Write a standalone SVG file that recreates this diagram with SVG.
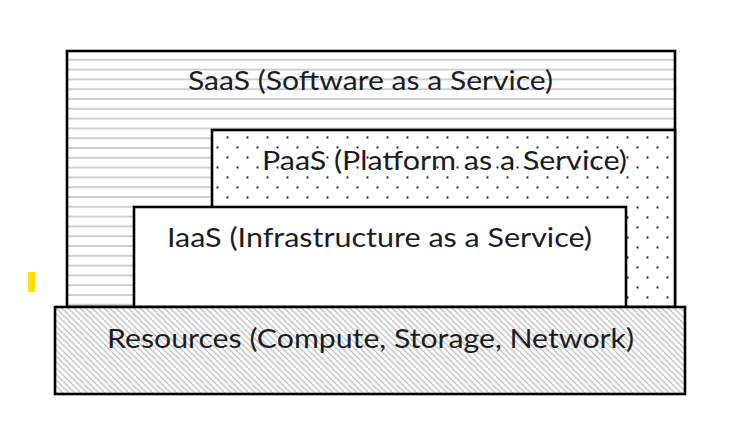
<svg xmlns="http://www.w3.org/2000/svg" width="735" height="425" viewBox="0 0 735 425">
  <style>
    .box { stroke: #000; stroke-width: 2.6; }
    .lbl { font-family: Lato, "Open Sans", "Liberation Sans", sans-serif; font-size: 26.5px; fill: #1c1c24; }
  </style>
  <defs>
    <pattern id="hlines" patternUnits="userSpaceOnUse" x="0" y="0" width="20" height="9.8">
      <rect x="0" y="0.2" width="20" height="1.6" fill="#c4c4c4"/>
    </pattern>
    <pattern id="dots" patternUnits="userSpaceOnUse" x="0" y="0" width="20" height="20">
      <circle cx="7.5" cy="17.5" r="1.15" fill="#333"/>
      <circle cx="17.5" cy="7.5" r="1.15" fill="#333"/>
    </pattern>
    <pattern id="hatch" patternUnits="userSpaceOnUse" x="0" y="0" width="6" height="6">
      <path d="M0,0 L6,6 M-1,5 L1,7 M5,-1 L7,1" stroke="#c8c8c8" stroke-width="1.5"/>
    </pattern>
  </defs>
  <rect x="0" y="0" width="735" height="425" fill="#fff"/>
  <rect x="28" y="272" width="7" height="20" fill="#ffe000"/>

  <g id="saas">
    <rect x="67" y="51" width="608" height="256" fill="#fff"/>
    <rect class="box" x="67" y="51" width="608" height="256" fill="url(#hlines)"/>
    <text class="lbl" x="188" y="89.5" textLength="365" lengthAdjust="spacingAndGlyphs">SaaS (Software as a Service)</text>
  </g>

  <g id="paas">
    <rect x="212" y="130" width="463" height="177" fill="#fff"/>
    <rect class="box" x="212" y="130" width="463" height="177" fill="url(#dots)"/>
    <text class="lbl" x="262" y="169.5" textLength="365" lengthAdjust="spacingAndGlyphs">PaaS (Platform as a Service)</text>
  </g>

  <g id="iaas">
    <rect class="box" x="134" y="207" width="492" height="100" fill="#fff"/>
    <text class="lbl" x="167" y="247" textLength="425" lengthAdjust="spacingAndGlyphs">IaaS (Infrastructure as a Service)</text>
  </g>

  <g id="resources">
    <rect x="55" y="307" width="630" height="87" fill="#fff"/>
    <rect class="box" x="55" y="307" width="630" height="87" fill="url(#hatch)"/>
    <text class="lbl" x="107" y="347.5" textLength="527" lengthAdjust="spacingAndGlyphs">Resources (Compute, Storage, Network)</text>
  </g>

  <g id="connectors"/>
</svg>
